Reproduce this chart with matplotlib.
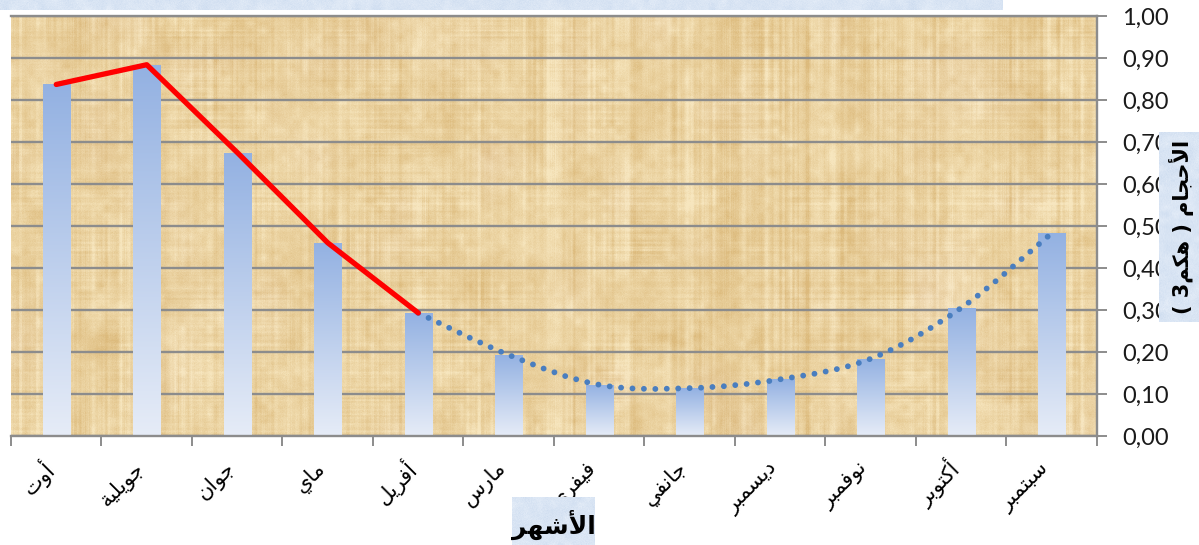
import numpy as np
import matplotlib
matplotlib.use("Agg")
import matplotlib.pyplot as plt
from matplotlib.path import Path
from matplotlib.patches import PathPatch
from matplotlib.colors import to_rgb
import matplotlib.transforms as mtransforms

# ---------------------------------------------------------------- data
months = ["أوت", "جويلية", "جوان", "ماي", "أفريل", "مارس",
          "فيفري", "جانفي", "ديسمبر", "نوفمبر", "أكتوبر", "سبتمبر"]
volumes = [0.837, 0.884, 0.675, 0.460, 0.293, 0.193,
           0.122, 0.114, 0.135, 0.184, 0.305, 0.483]
recession_idx = [0, 1, 2, 3, 4]          # red solid segment
rise_idx = [4, 5, 6, 7, 8, 9, 10, 11]    # blue dotted smoothed segment
y_ticks = [0.0, 0.1, 0.2, 0.3, 0.4, 0.5, 0.6, 0.7, 0.8, 0.9, 1.0]
x_title = "الأشهر"
y_title = "الأحجام ( هكم3 )"

# ------------------------------------------------ Arabic contextual shaping
FORMS = {
    'ا': ('\uFE8D', '\uFE8E', None, None),
    'أ': ('\uFE83', '\uFE84', None, None),
    'ب': ('\uFE8F', '\uFE90', '\uFE91', '\uFE92'),
    'ة': ('\uFE93', '\uFE94', None, None),
    'ت': ('\uFE95', '\uFE96', '\uFE97', '\uFE98'),
    'ج': ('\uFE9D', '\uFE9E', '\uFE9F', '\uFEA0'),
    'ح': ('\uFEA1', '\uFEA2', '\uFEA3', '\uFEA4'),
    'د': ('\uFEA9', '\uFEAA', None, None),
    'ر': ('\uFEAD', '\uFEAE', None, None),
    'س': ('\uFEB1', '\uFEB2', '\uFEB3', '\uFEB4'),
    'ش': ('\uFEB5', '\uFEB6', '\uFEB7', '\uFEB8'),
    'ف': ('\uFED1', '\uFED2', '\uFED3', '\uFED4'),
    'ك': ('\uFED9', '\uFEDA', '\uFEDB', '\uFEDC'),
    'ل': ('\uFEDD', '\uFEDE', '\uFEDF', '\uFEE0'),
    'م': ('\uFEE1', '\uFEE2', '\uFEE3', '\uFEE4'),
    'ن': ('\uFEE5', '\uFEE6', '\uFEE7', '\uFEE8'),
    'ه': ('\uFEE9', '\uFEEA', '\uFEEB', '\uFEEC'),
    'و': ('\uFEED', '\uFEEE', None, None),
    'ي': ('\uFEF1', '\uFEF2', '\uFEF3', '\uFEF4'),
    'لا': ('\uFEFB', '\uFEFC', None, None),
    'لأ': ('\uFEF7', '\uFEF8', None, None),
}
MIRROR = {'(': ')', ')': '('}


def shape(text):
    tokens = []
    i = 0
    while i < len(text):
        if text[i] == 'ل' and i + 1 < len(text) and text[i + 1] in 'اأ':
            tokens.append(text[i:i + 2])
            i += 2
        else:
            tokens.append(text[i])
            i += 1
    out = []
    for k, tok in enumerate(tokens):
        if tok not in FORMS:
            out.append(MIRROR.get(tok, tok))
            continue
        f = FORMS[tok]
        prev = tokens[k - 1] if k > 0 else None
        nxt = tokens[k + 1] if k + 1 < len(tokens) else None
        pj = prev in FORMS and FORMS[prev][2] is not None
        nj = f[2] is not None and nxt in FORMS
        if pj and nj:
            out.append(f[3])
        elif pj:
            out.append(f[1])
        elif nj:
            out.append(f[2])
        else:
            out.append(f[0])
    return ''.join(reversed(out))


# ------------------------------------------------------------ textures
def smooth1d(a, w):
    k = np.ones(w) / w
    return np.convolve(np.pad(a, w, mode='wrap'), k, mode='same')[w:-w]


def upsample(coarse, H, W):
    ch, cw = coarse.shape
    yi = np.linspace(0, ch - 1, H)
    xi = np.linspace(0, cw - 1, W)
    tmp = np.array([np.interp(xi, np.arange(cw), row) for row in coarse])
    return np.array([np.interp(yi, np.arange(ch), col) for col in tmp.T]).T


def papyrus(H, W, seed=3):
    rng = np.random.default_rng(seed)
    vcols = smooth1d(rng.normal(size=W), 3)
    vcols2 = smooth1d(rng.normal(size=W), 9)
    vmod = upsample(rng.normal(size=(10, 40)), H, W)
    vert = (vcols[None, :] + 1.2 * vcols2[None, :]) * (0.7 + 0.3 * vmod)
    hrows = smooth1d(rng.normal(size=H), 2)
    hrows2 = smooth1d(rng.normal(size=H), 4)
    hmod = upsample(rng.normal(size=(10, 30)), H, W)
    horiz = (hrows[:, None] + 0.6 * hrows2[:, None]) * (0.6 + 0.4 * hmod)
    blot = upsample(rng.normal(size=(14, 36)), H, W)
    blot2 = upsample(rng.normal(size=(60, 160)), H, W)
    fine = rng.normal(size=(H, W))
    t = 0.7 * vert + 0.3 * horiz + 0.3 * blot + 0.3 * blot2 + 0.15 * fine
    t = (t - t.mean()) / t.std()
    t = np.clip(0.55 + 0.16 * t, 0, 1)
    dark = np.array(to_rgb('#DCBA7C'))
    light = np.array(to_rgb('#F7E6BE'))
    img = dark + t[..., None] * (light - dark)
    pink = upsample(rng.normal(size=(10, 26)), H, W)
    img[..., 2] += 0.012 * np.clip(pink, 0, None)
    return np.clip(img, 0, 1)


def bluish(H, W, seed=11):
    rng = np.random.default_rng(seed)
    t = upsample(rng.normal(size=(max(H // 6, 2), max(W // 6, 2))), H, W) * 0.6 \
        + 0.4 * rng.normal(size=(H, W))
    t = np.clip(0.5 + 0.18 * t, 0, 1)
    dark = np.array(to_rgb('#C9D9EE'))
    light = np.array(to_rgb('#EAF1FA'))
    return dark + t[..., None] * (light - dark)


# -------------------------------------------------------------- figure
W_PX, H_PX = 1199, 545
fig = plt.figure(figsize=(W_PX / 100, H_PX / 100), dpi=100)
fig.patch.set_facecolor('white')

ax_l, ax_r, ax_t, ax_b = 11, 1097, 16, 436
ax = fig.add_axes([ax_l / W_PX, 1 - ax_b / H_PX,
                   (ax_r - ax_l) / W_PX, (ax_b - ax_t) / H_PX])

n = len(months)
x = np.arange(n)
ax.imshow(papyrus(420, 1086), extent=(-0.5, n - 0.5, 0, 1), aspect='auto',
          zorder=0.1, interpolation='bilinear')
ax.set_xlim(-0.5, n - 0.5)
ax.set_ylim(0, 1)

grid_c = '#8C8C8C'
ax.set_axisbelow(True)
ax.yaxis.grid(True, color=grid_c, lw=1.7, zorder=0.5)
ax.xaxis.grid(False)

# bars with vertical gradient
bars = ax.bar(x, volumes, width=0.30, color='#9AB6E3', edgecolor='none', zorder=1)
top_c = np.array(to_rgb('#93B1E2'))
bot_c = np.array(to_rgb('#E6ECF7'))
grad = np.linspace(0, 1, 256)[:, None]
grad_img = (top_c + grad[..., None] * (bot_c - top_c)).reshape(256, 1, 3)
for b in bars:
    x0, w, h = b.get_x(), b.get_width(), b.get_height()
    im = ax.imshow(grad_img, extent=(x0, x0 + w, 0, h), aspect='auto',
                   origin='upper', zorder=1.1, interpolation='bilinear')
    im.set_clip_path(b)

# recession: straight red polyline
ax.plot(x[recession_idx], np.array(volumes)[recession_idx], color='#FF0000',
        lw=3.8, solid_capstyle='round', solid_joinstyle='round', zorder=3)

# rise: smoothed (cubic Bezier, Catmull-Rom tangents) dotted blue curve
px = x[rise_idx].astype(float)
py = np.array(volumes)[rise_idx]
pts = np.column_stack([px, py])
verts = [pts[0]]
codes = [Path.MOVETO]
for i in range(len(pts) - 1):
    p0 = pts[i - 1] if i > 0 else pts[i]
    p1, p2 = pts[i], pts[i + 1]
    p3 = pts[i + 2] if i + 2 < len(pts) else pts[i + 1]
    c1 = p1 + (p2 - p0) / 6.0
    c2 = p2 - (p3 - p1) / 6.0
    verts += [c1, c2, p2]
    codes += [Path.CURVE4] * 3
curve = PathPatch(Path(verts, codes), facecolor='none', edgecolor='#4A7EBF',
                  lw=4.2, linestyle=(0, (0.01, 1.95)), capstyle='round',
                  transform=ax.transData, zorder=2.9)
ax.add_patch(curve)

# axes styling
ax.spines['left'].set_visible(False)
for side in ('bottom', 'right', 'top'):
    ax.spines[side].set_color(grid_c)
    ax.spines[side].set_linewidth(1.7)

ax.yaxis.tick_right()
ax.set_yticks(y_ticks)
ax.set_yticklabels([f"{v:.2f}".replace('.', ',') for v in y_ticks],
                   fontsize=17, family='Lato')
ax.tick_params(axis='y', which='major', length=7, width=1.4, color=grid_c,
               pad=11, labelcolor='#1a1a1a')

ax.set_xticks(np.arange(n + 1) - 0.5)
ax.set_xticklabels([])
ax.set_xticks(x, minor=True)
ax.set_xticklabels([shape(m) for m in months], minor=True, rotation=45,
                   rotation_mode='anchor', ha='right', va='center',
                   fontsize=15, family='DejaVu Sans')
ax.tick_params(axis='x', which='major', length=7, width=1.4, color=grid_c,
               direction='out')
ax.tick_params(axis='x', which='minor', length=0, pad=21)
offset = mtransforms.ScaledTranslation(-4 / 72, 0, fig.dpi_scale_trans)
for lab in ax.get_xticklabels(minor=True):
    lab.set_transform(lab.get_transform() + offset)

# title strip (top), axis title boxes
top_ax = fig.add_axes([0, 1 - 10 / H_PX, 1003 / W_PX, 10 / H_PX], zorder=5)
top_ax.imshow(bluish(10, 1003, seed=5), aspect='auto')
top_ax.axis('off')

yl = (1159, 132, 1199, 322)
yl_ax = fig.add_axes([yl[0] / W_PX, 1 - yl[3] / H_PX,
                      (yl[2] - yl[0]) / W_PX, (yl[3] - yl[1]) / H_PX], zorder=5)
yl_ax.imshow(bluish(yl[3] - yl[1], yl[2] - yl[0], seed=8), aspect='auto',
             extent=(0, 1, 0, 1))
yl_ax.set_xlim(0, 1)
yl_ax.set_ylim(0, 1)
yl_ax.axis('off')
yl_ax.text(0.55, 0.5, shape(y_title), rotation=90, ha='center', va='center',
           fontsize=15, fontweight='bold', family='DejaVu Sans', color='black')

xl = (512, 497, 595, 545)
xl_ax = fig.add_axes([xl[0] / W_PX, 1 - xl[3] / H_PX,
                      (xl[2] - xl[0]) / W_PX, (xl[3] - xl[1]) / H_PX], zorder=5)
xl_ax.imshow(bluish(xl[3] - xl[1], xl[2] - xl[0], seed=9), aspect='auto',
             extent=(0, 1, 0, 1))
xl_ax.set_xlim(0, 1)
xl_ax.set_ylim(0, 1)
xl_ax.axis('off')
xl_ax.text(0.5, 0.42, shape(x_title), ha='center', va='center',
           fontsize=18, fontweight='bold', family='DejaVu Sans', color='black')

fig.savefig('out.png', dpi=100)
